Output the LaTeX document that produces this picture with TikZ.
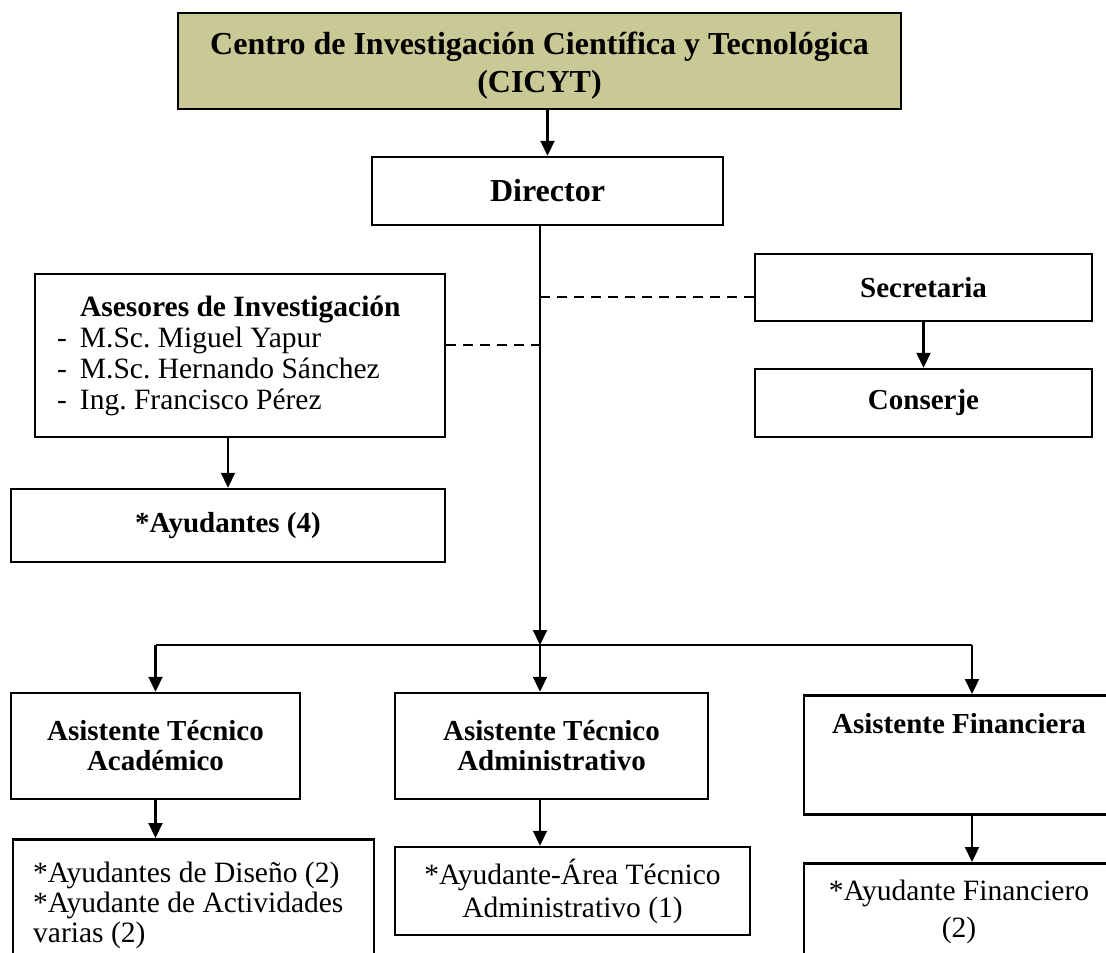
\documentclass[tikz,border=0pt]{standalone}
\usepackage{fontspec}
\setmainfont{Liberation Serif}
\usetikzlibrary{positioning,calc,arrows.meta}
\definecolor{olivebox}{RGB}{201,201,150}
\tikzset{
  box/.style={draw,line width=2.5pt,inner sep=0pt,align=center,
              font=\fontsize{29.5}{33}\selectfont},
  headbox/.style={box,font=\bfseries\fontsize{29}{30}\selectfont},
  bigbox/.style={box,font=\bfseries\fontsize{32}{38}\selectfont},
  plaintext/.style={inner sep=0pt,font=\fontsize{29.5}{30}\selectfont},
  linkarrow/.style={line width=2.2pt,-{Triangle[length=15pt,width=14pt]}},
  dashlink/.style={line width=2.2pt,dash pattern=on 10pt off 7pt},
}
\begin{document}
\begin{tikzpicture}[x=1pt,y=-1pt]
\useasboundingbox (0,0) rectangle (1106,953);
\clip (0,0) rectangle (1106,953);
% Top of the chart
\node[bigbox,fill=olivebox,minimum width=723pt,minimum height=96pt] (cicyt) at (539.5,61) {};
\node[plaintext,align=center,font=\bfseries\fontsize{32}{38}\selectfont] (cicyttxt) at (539.5,66)
  {Centro de Investigación Científica y Tecnológica\\(CICYT)};
\node[bigbox,minimum width=351pt,minimum height=68pt] (director) at (547.5,191) {Director};
% Advisers and their helpers
\node[box,minimum width=410pt,minimum height=163pt,text width=366pt,inner xsep=22pt,
      align=flush left,font=\fontsize{29.5}{31}\selectfont] (asesores) at (240,355.5)
  {\makebox[23pt][l]{}\textbf{Asesores de Investigación}\\
   \makebox[23pt][l]{-}M.Sc.\ Miguel Yapur\\
   \makebox[23pt][l]{-}M.Sc.\ Hernando Sánchez\\
   \makebox[23pt][l]{-}Ing.\ Francisco Pérez};
\node[headbox,minimum width=434pt,minimum height=73pt] (ayudantes) at (228,525.5) {*Ayudantes (4)};
% Secretary side
\node[headbox,minimum width=337pt,minimum height=67pt] (secretaria) at (923.5,287.5) {Secretaria};
\node[headbox,minimum width=337pt,minimum height=68pt] (conserje) at (923.5,403) {Conserje};
% Three assistants
\node[headbox,minimum width=289pt,minimum height=106pt] (academico) at (155.5,746)
  {Asistente Técnico\\Académico};
\node[headbox,minimum width=313pt,minimum height=106pt] (administrativo) at (551.5,746)
  {Asistente Técnico\\Administrativo};
\node[headbox,minimum width=312pt,minimum height=119pt,anchor=north] (financiera) at (960,694) {};
\node[plaintext,font=\bfseries\fontsize{29}{30}\selectfont,anchor=base] (financieratxt) at (959,733)
  {Asistente Financiera};
% Helpers of each assistant
\node[box,minimum width=361pt,minimum height=150pt,anchor=north west] (sub1) at (11.5,838) {};
\node[plaintext,align=flush left,anchor=north west] (sub1txt) at (33,862)
  {*Ayudantes de Diseño (2)\\{}*Ayudante de Actividades\\varias (2)};
\node[box,minimum width=355pt,minimum height=88pt] (sub2) at (572.5,891)
  {*Ayudante-Área Técnico\\Administrativo (1)};
\node[box,minimum width=312pt,minimum height=120pt,anchor=north] (sub3) at (960,862) {};
\node[plaintext,align=center,anchor=north,font=\fontsize{29.5}{37}\selectfont] (sub3txt) at (959,880)
  {*Ayudante Financiero\\(2)};
% Connectors
\coordinate (spine) at (540,0 |- director.south);
\coordinate (hub) at (540,645);
\coordinate (branch3) at (972,645);
\draw[linkarrow] (cicyt.south -| director.north) -- (director.north);
\draw[linkarrow] (spine) -- (hub);
\coordinate (dash1) at ([yshift=10.5pt]asesores.east);
\coordinate (dash2) at ([yshift=-9.5pt]secretaria.west);
\draw[dashlink] (dash1) -- (dash1 -| spine);
\draw[dashlink] (dash2) -- (dash2 -| spine);
\draw[linkarrow] (asesores.south -| ayudantes.north) -- (ayudantes.north);
\draw[linkarrow] (secretaria) -- (conserje);
\draw[line width=2.2pt] (hub -| academico.north) -- (branch3);
\draw[linkarrow] (hub -| academico.north) -- (academico.north);
\draw[linkarrow] (hub) -- (hub |- administrativo.north);
\draw[linkarrow] (branch3) -- (branch3 |- financiera.north);
\draw[linkarrow] (academico.south) -- (academico.south |- sub1.north);
\draw[linkarrow] (administrativo.south -| spine) -- (sub2.north -| spine);
\draw[linkarrow] (branch3 |- financiera.south) -- (branch3 |- sub3.north);
\end{tikzpicture}
\end{document}
